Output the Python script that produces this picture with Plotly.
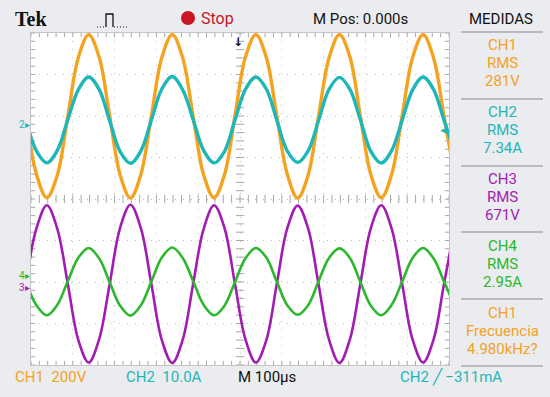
import plotly.graph_objects as go

time_us = [-512, -487, -462, -437, -412, -387, -362, -337, -312, -287, -262, -237,
           -212, -187, -162, -137, -112, -87, -62, -37, -12, 13, 38, 63, 88, 113,
           138, 163, 188, 213, 238, 263, 288, 313, 338, 363, 388, 413, 438, 463, 488, 513]

ch1_div = [2.00, 0.60, 0.03, 0.58, 1.99, 3.40, 3.96, 3.42,
           2.01, 0.59, 0.02, 0.60, 2.00, 3.41, 3.96, 3.40,
           1.98, 0.58, 0.03, 0.59, 2.01, 3.42, 3.96, 3.41,
           2.00, 0.60, 0.02, 0.58, 2.00, 3.40, 3.96, 3.42,
           1.99, 0.59, 0.03, 0.60, 2.01, 3.41, 3.96, 3.40,
           2.00, 0.59]

ch2_div = [1.90, 1.16, 0.87, 1.17, 1.91, 2.63, 2.94, 2.64,
           1.89, 1.15, 0.86, 1.16, 1.90, 2.65, 2.95, 2.63,
           1.91, 1.17, 0.87, 1.15, 1.90, 2.64, 2.94, 2.65,
           1.90, 1.16, 0.88, 1.16, 1.89, 2.64, 2.93, 2.64,
           1.91, 1.15, 0.87, 1.17, 1.90, 2.63, 2.94, 2.64,
           1.90, 1.16]

ch3_div = [-2.05, -0.71, -0.15, -0.72, -2.04, -3.39, -3.94, -3.38,
           -2.06, -0.70, -0.14, -0.71, -2.05, -3.40, -3.95, -3.39,
           -2.04, -0.72, -0.15, -0.70, -2.05, -3.38, -3.94, -3.40,
           -2.05, -0.71, -0.16, -0.71, -2.06, -3.39, -3.95, -3.38,
           -2.04, -0.70, -0.15, -0.72, -2.05, -3.39, -3.94, -3.39,
           -2.05, -0.71]

ch4_div = [-1.99, -2.56, -2.80, -2.55, -1.98, -1.42, -1.18, -1.43,
           -2.00, -2.57, -2.81, -2.56, -1.99, -1.41, -1.17, -1.42,
           -1.98, -2.55, -2.80, -2.57, -2.00, -1.43, -1.18, -1.41,
           -1.99, -2.56, -2.79, -2.56, -1.98, -1.42, -1.19, -1.42,
           -2.00, -2.57, -2.80, -2.55, -1.99, -1.42, -1.18, -1.43,
           -1.99, -2.56]

measure_labels = ["CH1", "RMS", "281V", "CH2", "RMS", "7.34A", "CH3", "RMS", "671V",
                  "CH4", "RMS", "2.95A", "CH1", "Frecuencia", "4.980kHz?"]
bottom_labels = ["CH1  200V", "CH2  10.0A", "M 100µs", "CH2 ╱ −311mA"]

# ---------------- styles ----------------
W, H = 550, 397
L, R, T, B = 31, 449, 33, 365
ORANGE = "#f5a21f"
CYAN = "#1fb6b8"
MAGENTA = "#a21cb4"
GREEN = "#2cb82c"
BG = "#eaecef"
FONT = "Roboto, Liberation Sans, sans-serif"


def px(x):
    return (x - L) / (R - L)


def py(y):
    return (B - y) / (B - T)


fig = go.Figure()

# graticule ticks (minor division marks on edges and center cross)
tx = [i * 20 for i in range(-25, 26)]
ty = [i * 0.2 for i in range(-20, 21)]
tick_style = dict(color="#a8a8a8", size=6, line=dict(color="#a8a8a8", width=1))
for yv in (4, -4, 0):
    fig.add_trace(go.Scatter(x=tx, y=[yv] * len(tx), mode="markers",
                             marker=dict(symbol="line-ns", **tick_style),
                             hoverinfo="skip", showlegend=False))
for xv in (-500, 500, 0):
    fig.add_trace(go.Scatter(x=[xv] * len(ty), y=ty, mode="markers",
                             marker=dict(symbol="line-ew", **tick_style),
                             hoverinfo="skip", showlegend=False))

for vals, color, w in [(ch3_div, MAGENTA, 2.6), (ch4_div, GREEN, 2.6),
                       (ch1_div, ORANGE, 3.4), (ch2_div, CYAN, 3.4)]:
    fig.add_trace(go.Scatter(x=time_us, y=vals, mode="lines",
                             line=dict(color=color, width=w, shape="spline"),
                             hoverinfo="skip", showlegend=False))

axis_common = dict(showticklabels=False, showgrid=True, gridcolor="#bdbdbd",
                   griddash="1px,7px", gridwidth=1, zeroline=False, showline=True,
                   linecolor="#c4c4c4", linewidth=1, mirror=True, ticks="",
                   fixedrange=True)
fig.update_xaxes(range=[-500, 500], dtick=100, tick0=0, **axis_common)
fig.update_yaxes(range=[-4, 4], dtick=1, tick0=0, **axis_common)

ann = []
shapes = []

# top bar
ann.append(dict(text="<b>Tek</b>", x=px(13), y=py(19), xanchor="left", yanchor="middle",
                font=dict(family="Liberation Serif, DejaVu Serif, serif", size=20, color="#111")))
ann.append(dict(text="Stop", x=px(199), y=py(19), xanchor="left", yanchor="middle",
                font=dict(family=FONT, size=16, color="#c4162a")))
ann.append(dict(text="M Pos: 0.000s", x=px(360), y=py(19), xanchor="center", yanchor="middle",
                font=dict(family=FONT, size=15, color="#111")))
ann.append(dict(text="MEDIDAS", x=px(501), y=py(19), xanchor="center", yanchor="middle",
                font=dict(family=FONT, size=15, color="#111")))
shapes.append(dict(type="circle", xref="paper", yref="paper", x0=px(181), x1=px(195),
                   y0=py(25), y1=py(11), fillcolor="#cc1424", line=dict(width=0)))
# pulse icon
shapes.append(dict(type="path", xref="paper", yref="paper",
                   path=f"M {px(106)},{py(27)} L {px(106)},{py(14)} L {px(113)},{py(14)} "
                        f"L {px(113)},{py(27)}",
                   line=dict(color="#111", width=1.3)))
shapes.append(dict(type="line", xref="paper", yref="paper", x0=px(97), x1=px(105),
                   y0=py(27), y1=py(27), line=dict(color="#111", width=1, dash="1px,2px")))
shapes.append(dict(type="line", xref="paper", yref="paper", x0=px(114), x1=px(127),
                   y0=py(27), y1=py(27), line=dict(color="#111", width=1, dash="1px,2px")))

# right measurement panel
colors = [ORANGE, CYAN, MAGENTA, GREEN, ORANGE]
for s in range(5):
    for j in range(3):
        ann.append(dict(text=measure_labels[s * 3 + j], x=px(502),
                        y=py(45 + s * 67 + j * 18), xanchor="center", yanchor="middle",
                        font=dict(family=FONT, size=15, color=colors[s])))
for yl in (32, 99, 166, 232, 299, 366):
    shapes.append(dict(type="line", xref="paper", yref="paper", x0=px(461), x1=px(543),
                       y0=py(yl), y1=py(yl), line=dict(color="#a9abb0", width=1.5)))

# bottom labels
bcols = [ORANGE, CYAN, "#111", CYAN]
bx = [13, 124, 236, 398]
for lab, c, xx in zip(bottom_labels, bcols, bx):
    ann.append(dict(text=lab, x=px(xx), y=py(377), xanchor="left", yanchor="middle",
                    font=dict(family=FONT, size=15, color=c)))

# channel ground markers
for lab, c, yv in [("2▸", CYAN, 1.8), ("4▸", GREEN, -1.84), ("3▸", MAGENTA, -2.14)]:
    ann.append(dict(text=lab, xref="paper", yref="y", x=px(31), y=yv, xanchor="right",
                    yanchor="middle", borderpad=0,
                    font=dict(family=FONT, size=10, color=c)))
ann.append(dict(text="◂", xref="paper", yref="y", x=1.0, y=1.68, xanchor="right",
                yanchor="middle", font=dict(family="DejaVu Sans", size=13, color=CYAN)))
ann.append(dict(text="<b>↓</b>", xref="x", yref="paper", x=-5, y=1.0, xanchor="center",
                yanchor="top", font=dict(family="DejaVu Sans", size=12, color="#111")))

for a in ann:
    a.setdefault("xref", "paper")
    a.setdefault("yref", "paper")
    a["showarrow"] = False

fig.update_layout(width=W, height=H, margin=dict(l=L, r=W - R, t=T, b=H - B),
                  paper_bgcolor=BG, plot_bgcolor="white", annotations=ann, shapes=shapes,
                  showlegend=False)

fig.write_html("out.html", config={"displayModeBar": False},
               post_script="document.body.style.margin='0px';document.body.style.padding='0px';")
